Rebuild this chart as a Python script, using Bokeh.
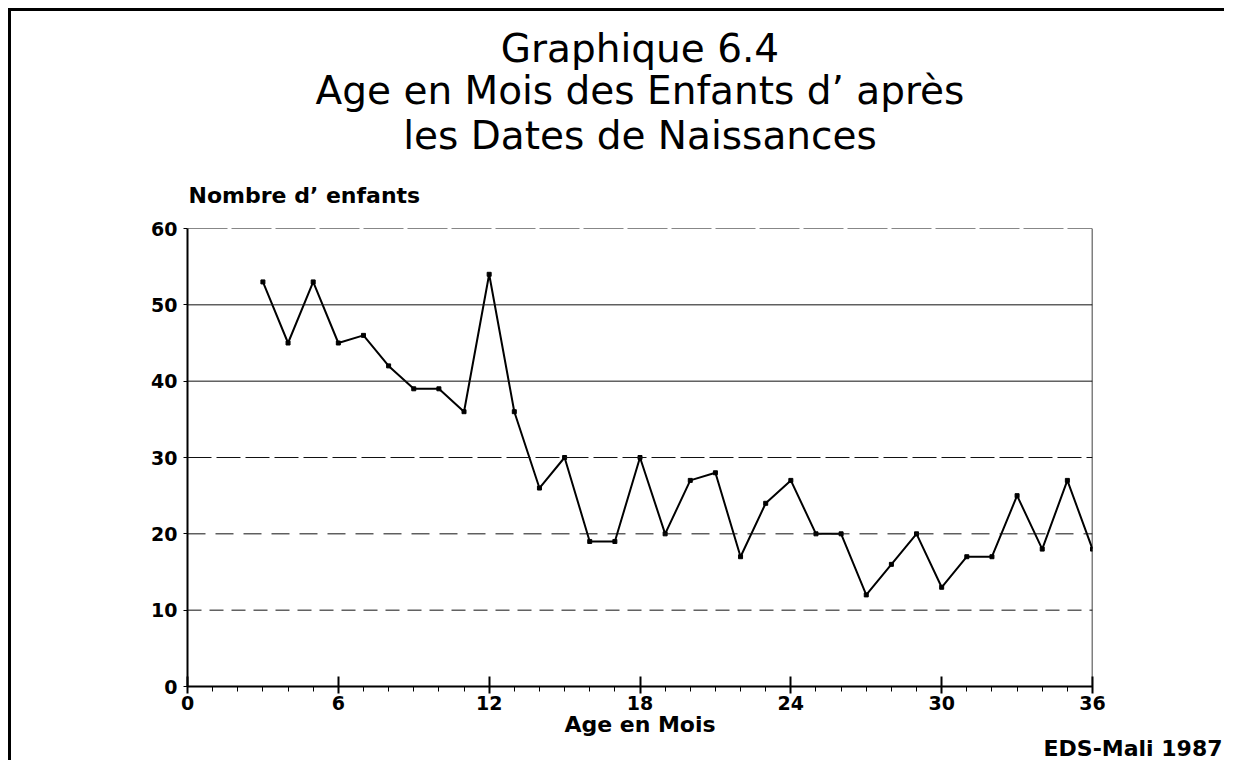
from bokeh.plotting import figure
from bokeh.models import Range1d, FixedTicker, Span, Title
from bokeh.embed import file_html
from bokeh.resources import INLINE

# ---- data ----
ages = [3, 4, 5, 6, 7, 8, 9, 10, 11, 12, 13, 14, 15, 16, 17, 18, 19, 20,
        21, 22, 23, 24, 25, 26, 27, 28, 29, 30, 31, 32, 33, 34, 35, 36]
counts = [53, 45, 53, 45, 46, 42, 39, 39, 36, 54, 36, 26, 30, 19, 19, 30, 20, 27,
          28, 17, 24, 27, 20, 20, 12, 16, 20, 13, 17, 17, 25, 18, 27, 18]
x_ticks = [0, 6, 12, 18, 24, 30, 36]
x_minor = list(range(0, 37))
y_ticks = [0, 10, 20, 30, 40, 50, 60]

title_lines = ["Graphique 6.4", "Age en Mois des Enfants d\u2019 apr\u00e8s", "les Dates de Naissances"]
y_label = "Nombre d\u2019 enfants"
x_label = "Age en Mois"
source_note = "EDS-Mali 1987"

FONT = "DejaVu Sans"

p = figure(width=1216, height=752, output_backend="svg", toolbar_location=None,
           x_range=Range1d(0, 36), y_range=Range1d(0, 60),
           min_border_left=176, min_border_right=135,
           min_border_top=217, min_border_bottom=77)
p.styles = {"border-top": "3px solid black", "border-left": "3px solid black",
            "margin-left": "8px", "margin-top": "8px"}
p.background_fill_color = "white"
p.border_fill_color = "white"
p.outline_line_color = None
p.xgrid.visible = False
p.ygrid.visible = False

# axes
xa = p.xaxis[0]
xa.ticker = FixedTicker(ticks=x_ticks, minor_ticks=x_minor)
xa.major_tick_in = 10
xa.major_tick_out = 7
xa.minor_tick_in = 0
xa.minor_tick_out = 5
xa.axis_line_width = 2
xa.major_tick_line_width = 2
xa.major_label_text_font = FONT
xa.major_label_text_font_style = "bold"
xa.major_label_text_font_size = "19px"
xa.major_label_standoff = 2
xa.major_label_text_color = "black"

ya = p.yaxis[0]
ya.ticker = FixedTicker(ticks=y_ticks, minor_ticks=[])
ya.major_tick_in = 0
ya.major_tick_out = 4
ya.axis_line_width = 2
ya.major_label_text_font = FONT
ya.major_label_text_font_style = "bold"
ya.major_label_text_font_size = "19px"
ya.major_label_standoff = 6
ya.major_label_text_color = "black"

# horizontal reference lines
dash_for = {10: "14 8", 20: "18 10", 30: "24 5", 40: "solid", 50: "solid", 60: "40 4"}
for v in y_ticks[1:]:
    p.add_layout(Span(location=v, dimension="width", line_color="#111111",
                      line_width=1, line_dash=dash_for[v]))
p.add_layout(Span(location=x_ticks[-1], dimension="height", line_color="black", line_width=1.5))

# data
p.line(ages, counts, line_color="black", line_width=2)
p.scatter(ages, counts, marker="square", size=4, color="black")

# texts above (closest to the frame first)
p.add_layout(Title(text="", text_font_size="1px", standoff=9), "above")
p.add_layout(Title(text=y_label, align="left", offset=1, text_font=FONT,
                   text_font_style="bold", text_font_size="22px", standoff=42,
                   text_color="black"), "above")
for t, so in zip(reversed(title_lines), [3, -6, -4]):
    p.add_layout(Title(text=t, align="center", text_font=FONT,
                       text_font_style="normal", text_font_size="39px", standoff=so,
                       text_color="black"), "above")

# texts below
p.add_layout(Title(text=x_label, align="center", text_font=FONT, text_font_style="bold",
                   text_font_size="22px", standoff=-6, text_color="black"), "below")
p.add_layout(Title(text=source_note, align="right", offset=-130, text_font=FONT,
                   text_font_style="bold", text_font_size="22px", standoff=0,
                   text_color="black"), "below")

open("out.html", "w").write(file_html(p, INLINE))
